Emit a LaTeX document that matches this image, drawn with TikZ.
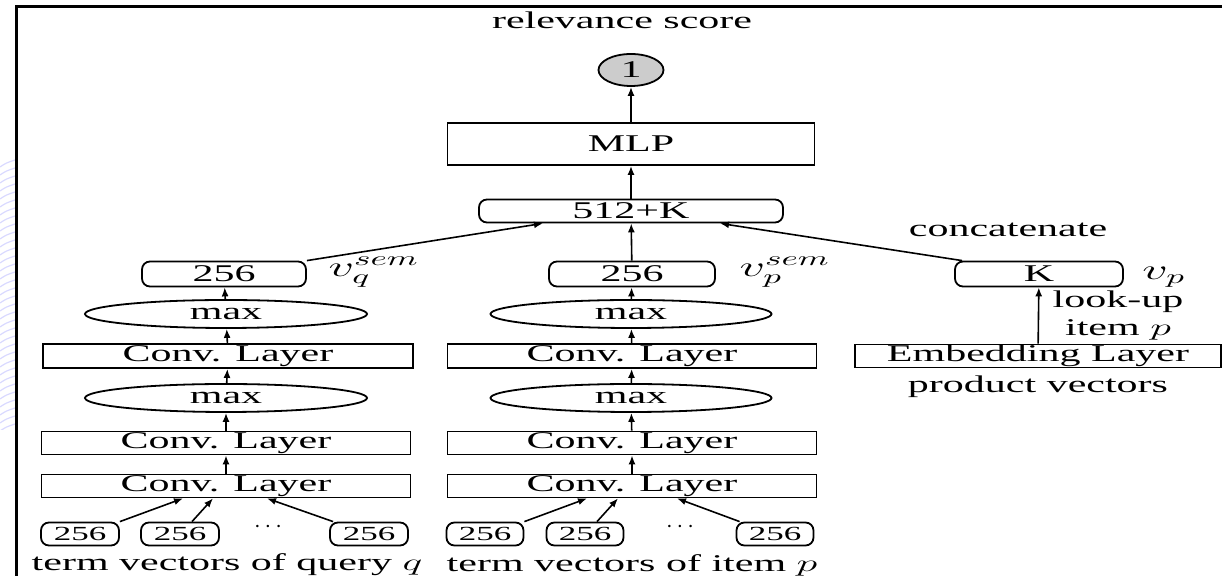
\documentclass[tikz,border=0pt]{standalone}
\usepackage{fontspec}
\setmainfont{Liberation Serif}[FakeStretch=1.75]
\usepackage{amsmath}
\usetikzlibrary{shapes.geometric,arrows.meta}

% wide math, to go with the stretched text
\newcommand{\wm}[1]{\scalebox{1.75}[1]{$#1$}}

\begin{document}
\begin{tikzpicture}[x=0.5pt,y=0.5pt,yscale=-1,xscale=1,
  every node/.style={inner sep=0pt, font=\fontsize{12}{14}\selectfont},
  box/.style={draw, line width=0.9pt, rectangle, minimum height=11.5pt},
  rbox/.style={box, rounded corners=4pt},
  pool/.style={draw, line width=0.9pt, ellipse, minimum width=141pt, minimum height=14pt},
  term/.style={rbox, minimum width=39pt, font=\fontsize{10}{12}\selectfont},
  vlab/.style={font=\fontsize{14}{16}\selectfont},
  link/.style={line width=0.8pt, -{Latex[length=4.5pt,width=3.5pt]}}
]
\useasboundingbox (0,0) rectangle (1222,576);

% background strokes at the left edge
\begin{scope}
\clip (0,160) rectangle (15,430);
\foreach \y in {160,168,...,430}
  \draw[blue!15, line width=0.6pt] (0,\y+7) .. controls (6,\y+3) .. (15,\y);
\end{scope}

% frame
\draw[line width=1.5pt] (16,576) -- (16,7) -- (1222,7);

% Text Node
\node (score) at (622,20) {relevance score};
\node[draw, ellipse, fill=gray!40, line width=0.9pt, minimum width=32.5pt, minimum height=16pt] (out) at (631,70) {1};
\node[box, minimum width=183.5pt, minimum height=21pt] (mlp) at (631,144) {MLP};
\node[rbox, minimum width=152pt] (cat) at (631,211) {512+K};
% Text Node
\node (cattext) at (1008,230) {concatenate};

% query column
\node[rbox, minimum width=82pt, minimum height=12.5pt] (semq) at (224,274) {256};
\node[vlab] (semqlab) at (374,272) {\wm{v_q^{sem}}};
\node[pool] (maxq2) at (226,314) {max};
\node[box, minimum width=185pt, minimum height=12pt] (convq3) at (228,356) {Conv. Layer};
\node[pool] (maxq1) at (226,398) {max};
\node[box, minimum width=184.5pt] (convq2) at (226,443) {Conv. Layer};
\node[box, minimum width=184.5pt] (convq1) at (226,486) {Conv. Layer};
\node[term] (tq1) at (80,534) {256};
\node[term] (tq2) at (180,534) {256};
\node (dotsq) at (270,527) {$\cdots$};
\node[term] (tq3) at (369,534) {256};
% Text Node
\node (qtext) at (227,565) {term vectors of query \wm{q}};

% item column
\node[rbox, minimum width=83pt, minimum height=12.5pt] (semp) at (632,274) {256};
\node[vlab] (semplab) at (785,272) {\wm{v_p^{sem}}};
\node[pool, minimum width=140.5pt] (maxp2) at (631,314) {max};
\node[box, minimum width=184.5pt, minimum height=12pt] (convp3) at (632,356) {Conv. Layer};
\node[pool, minimum width=140.5pt] (maxp1) at (631,398) {max};
\node[box, minimum width=184.5pt] (convp2) at (632,443) {Conv. Layer};
\node[box, minimum width=184.5pt] (convp1) at (632,486) {Conv. Layer};
\node[term, minimum width=38.5pt] (tp1) at (485,534) {256};
\node[term, minimum width=38.5pt] (tp2) at (585,534) {256};
\node (dotsp) at (682,527) {$\cdots$};
\node[term, minimum width=38.5pt] (tp3) at (775,534) {256};
% Text Node
\node (ptext) at (632,565) {term vectors of item \wm{p}};

% product column
\node[rbox, minimum width=84pt, minimum height=12.5pt] (vk) at (1039,274) {K};
\node[vlab] (vklab) at (1164,277) {\wm{v_p}};
\node[box, minimum width=183pt] (emb) at (1038,356) {Embedding Layer};
\node[align=center] (lookup) at (1118,316) {look-up\\item \wm{p}};
% Text Node
\node (prodtext) at (1038,387) {product vectors};

% arrows, top part
\draw[link] (mlp) -- (out);
\draw[link] (cat) -- (mlp);
\draw[link] (semq.north east) -- ([xshift=-44pt]cat.south);
\draw[link] (semp) -- (cat);
\draw[link] ([xshift=4pt]vk.north west) -- ([xshift=44.5pt]cat.south);
\draw[link] (emb) -- (vk);

% arrows, query column
\draw[link] (maxq2) -- (semq);
\draw[link] (convq3) -- (maxq2);
\draw[link] (maxq1) -- (convq3);
\draw[link] (convq2) -- (maxq1);
\draw[link] (convq1) -- (convq2);
\draw[link] (tq1.north east) -- ([xshift=-21.5pt]convq1.south);
\draw[link] ([xshift=6pt]tq2.north) -- ([xshift=-6.5pt]convq1.south);
\draw[link] ([xshift=2pt]tq3.north west) -- ([xshift=20.5pt]convq1.south);

% arrows, item column
\draw[link] (maxp2) -- (semp);
\draw[link] (convp3) -- (maxp2);
\draw[link] (maxp1) -- (convp3);
\draw[link] (convp2) -- (maxp1);
\draw[link] (convp1) -- (convp2);
\draw[link] (tp1.north east) -- ([xshift=-22.5pt]convp1.south);
\draw[link] ([xshift=6pt]tp2.north) -- ([xshift=-7pt]convp1.south);
\draw[link] ([xshift=2pt]tp3.north west) -- ([xshift=22.5pt]convp1.south);

\end{tikzpicture}
\end{document}
